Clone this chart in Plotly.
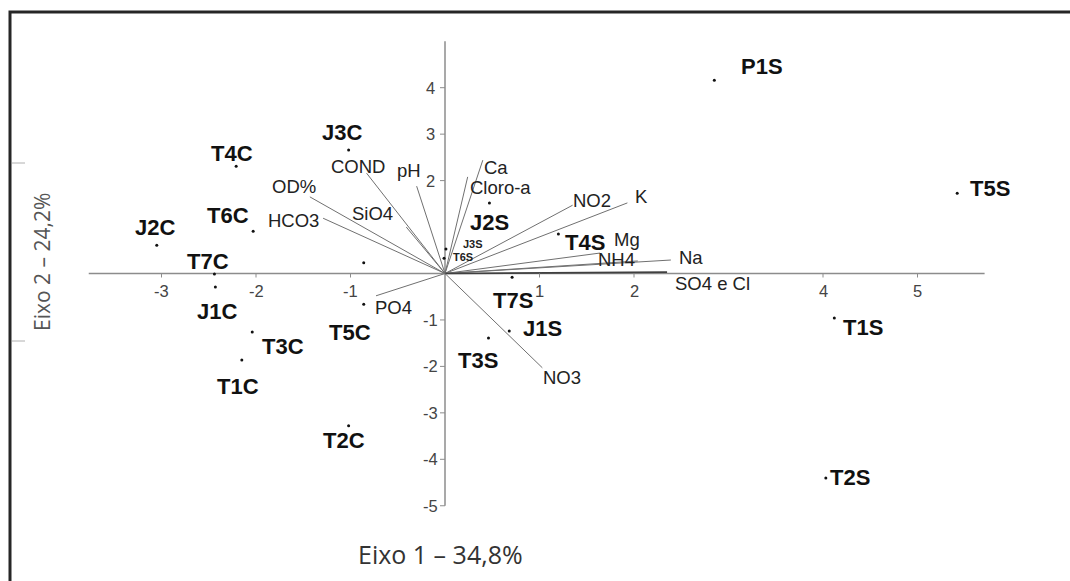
import plotly.graph_objects as go

# ---- data ----
site_names = ["P1S", "T5S", "T1S", "T2S", "J2S", "T4S", "T7S", "J1S", "T3S", "J3S", "T6S",
              "T2C", "T5C", "T3C", "T1C", "J1C", "T7C", "J2C", "T6C", "T4C", "J3C", ""]
site_x = [2.85, 5.42, 4.12, 4.03, 0.47, 1.20, 0.71, 0.68, 0.46, 0.01, -0.01,
          -1.02, -0.86, -2.04, -2.15, -2.43, -2.44, -3.05, -2.03, -2.21, -1.02, -0.86]
site_y = [4.16, 1.73, -0.96, -4.40, 1.52, 0.85, -0.08, -1.24, -1.39, 0.53, 0.33,
          -3.28, -0.66, -1.26, -1.86, -0.29, -0.01, 0.61, 0.91, 2.31, 2.66, 0.23]

var_names = ["COND", "pH", "OD%", "HCO3", "SiO4", "Ca", "Cloro-a", "NO2", "K", "Mg",
             "NH4", "Na", "SO4 e Cl", "PO4", "NO3"]
var_x = [-0.83, -0.30, -1.43, -1.29, -0.41, 0.40, 0.24, 1.35, 1.93, 1.64, 2.04, 2.39, 2.35, -0.73, 1.03]
var_y = [2.16, 1.88, 1.65, 1.19, 1.00, 2.44, 2.08, 1.47, 1.52, 0.44, 0.27, 0.29, 0.03, -0.48, -2.03]

x_ticks = [-3, -2, -1, 1, 2, 4, 5]
y_ticks = [4, 3, 2, -1, -2, -3, -4, -5]
x_axis_span = [-3.77, 5.71]
y_axis_span = [-5.0, 5.0]
x_title = "Eixo 1 – 34,8%"
y_title = "Eixo 2 – 24,2%"

# ---- label styling / offsets (pixels) ----
site_off = [(48, 14), (33, 5), (29, -9), (24, 0), (0, -20), (27, -8), (1, -23), (33, 3),
            (-10, -22), (27, 5), (19, 1), (-5, -15), (-14, -28), (31, -14), (-4, -27),
            (2, -25), (-6, 12), (-2, 18), (-25, 16), (-4, 13), (-7, 17), (0, 0)]
var_off = [(-9, 7), (-8, 16), (-16, 10), (-30, -2), (-34, 14), (13, -7), (33, -11),
           (19, 5), (14, 6), (27, 14), (-21, 1), (20, 3), (45, -11), (17, -12), (20, -10)]
small_sites = {"J3S", "T6S"}

W, H = 1070, 581
px_per_x, px_per_y = 94.5, 46.45
ox, oy = 445, 273.5
x_range = [-ox / px_per_x, (W - ox) / px_per_x]
y_range = [(oy - H) / px_per_y, oy / px_per_y]

fig = go.Figure()

AXIS_COL = "#8c8c8c"
VEC_COL = "#707070"
FONT = "Liberation Sans, Arial"

# axes lines
fig.add_trace(go.Scatter(x=x_axis_span, y=[0, 0], mode="lines",
                         line=dict(color=AXIS_COL, width=1.5), hoverinfo="skip", showlegend=False))
fig.add_trace(go.Scatter(x=[0, 0], y=y_axis_span, mode="lines",
                         line=dict(color=AXIS_COL, width=1.5), hoverinfo="skip", showlegend=False))

# vectors
for n, vx, vy in zip(var_names, var_x, var_y):
    w = 1.6 if n == "SO4 e Cl" else 1
    col = "#404040" if n == "SO4 e Cl" else VEC_COL
    fig.add_trace(go.Scatter(x=[0, vx], y=[0, vy], mode="lines",
                             line=dict(color=col, width=w), hoverinfo="skip", showlegend=False))

# site points
fig.add_trace(go.Scatter(x=site_x, y=site_y, mode="markers",
                         marker=dict(color="#111", size=3), text=site_names,
                         hoverinfo="text", showlegend=False))

ann = []
for n, sx, sy, (dx, dy) in zip(site_names, site_x, site_y, site_off):
    if not n:
        continue
    small = n in small_sites
    ann.append(dict(x=sx, y=sy, xref="x", yref="y", text=f"<b>{n}</b>", showarrow=False,
                    xshift=dx, yshift=dy,
                    font=dict(family=FONT, size=11 if small else 22,
                              color="#222" if small else "#111")))
for n, vx, vy, (dx, dy) in zip(var_names, var_x, var_y, var_off):
    ann.append(dict(x=vx, y=vy, xref="x", yref="y", text=n, showarrow=False,
                    xshift=dx, yshift=dy,
                    font=dict(family=FONT, size=18.5, color="#222")))

# tick labels
for t in x_ticks:
    ann.append(dict(x=t, y=0, xref="x", yref="y", text=str(t), showarrow=False,
                    yshift=-17, font=dict(family=FONT, size=16.5, color="#444")))
for t in y_ticks:
    ann.append(dict(x=0, y=t, xref="x", yref="y", text=str(t), showarrow=False,
                    xshift=-15, font=dict(family=FONT, size=16.5, color="#444")))

# axis titles
ann.append(dict(x=440 / W, y=1 - 554 / H, xref="paper", yref="paper", text=x_title,
                xanchor="center", yanchor="middle",
                showarrow=False, font=dict(family="Open Sans", size=25, color="#333")))
ann.append(dict(x=42 / W, y=1 - 262 / H, xref="paper", yref="paper", text=y_title,
                xanchor="center", yanchor="middle",
                showarrow=False, textangle=-90, font=dict(family="Open Sans", size=21, color="#555")))

shapes = []
for t in x_ticks:
    shapes.append(dict(type="line", xref="x", yref="y", x0=t, x1=t, ysizemode="pixel",
                       yanchor=0, y0=-4, y1=0, line=dict(color=AXIS_COL, width=1)))
for t in y_ticks:
    shapes.append(dict(type="line", xref="x", yref="y", y0=t, y1=t, xsizemode="pixel",
                       xanchor=0, x0=-5, x1=0, line=dict(color=AXIS_COL, width=1)))
# frame
shapes.append(dict(type="rect", xref="paper", yref="paper", x0=10 / W, x1=1.05,
                   y0=-0.05, y1=1 - 12 / H, line=dict(color="#262626", width=3)))
# small marks at left edge
for py in (163, 341):
    shapes.append(dict(type="line", xref="paper", yref="paper", x0=12 / W, x1=25 / W,
                       y0=1 - py / H, y1=1 - py / H, line=dict(color="#b0b0b0", width=1)))

fig.update_layout(
    width=W, height=H, autosize=False,
    margin=dict(l=0, r=0, t=0, b=0),
    paper_bgcolor="white", plot_bgcolor="white",
    xaxis=dict(range=x_range, visible=False, fixedrange=True),
    yaxis=dict(range=y_range, visible=False, fixedrange=True),
    annotations=ann, shapes=shapes,
)

fig.write_html("out.html")
